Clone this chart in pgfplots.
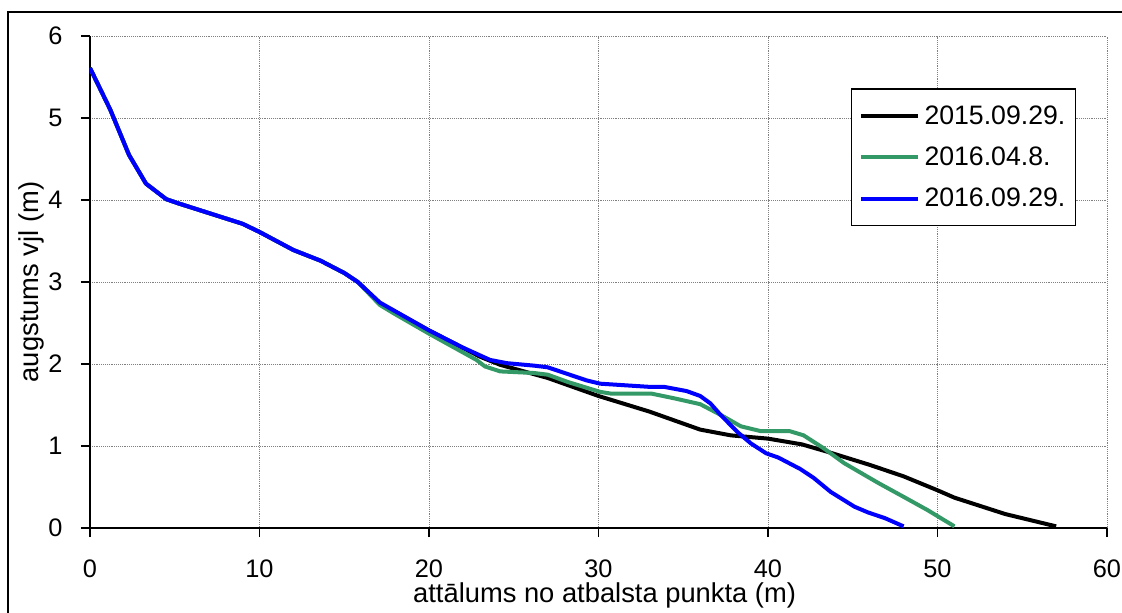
\documentclass[border=0pt]{standalone}
\usepackage{fontspec}
\setmainfont{Liberation Sans}
\usepackage{pgfplots}
\pgfplotsset{compat=1.18}
\definecolor{sgreen}{RGB}{51,153,102}
\begin{document}
\begin{tikzpicture}
\useasboundingbox (0,0) rectangle (841.5pt,459pt);
\clip (0,0) rectangle (841.5pt,459pt);
\draw[line width=1.2pt] (6pt,-20pt) rectangle (860pt,450pt);
\begin{axis}[
  at={(67.5pt,63pt)}, anchor=south west,
  scale only axis, width=762.75pt, height=369pt,
  xmin=0, xmax=60, ymin=0, ymax=6,
  xtick={0,10,...,60}, ytick={0,1,...,6},
  axis x line*=bottom, axis y line*=left,
  axis line style={line width=1.5pt, -},
  tick align=outside, major tick length=6.75pt,
  tick style={line width=1.2pt, black},
  grid=major,
  major grid style={gray, densely dotted, line width=0.7pt},
  /pgf/number format/assume math mode=true,
  tick label style={font=\fontsize{19}{22}\selectfont},
  xticklabel style={anchor=base, inner sep=0pt, yshift=-30pt},
  yticklabel style={anchor=east, inner sep=0pt, xshift=-13.75pt},
  xlabel={attālums no atbalsta punkta (m)},
  ylabel={augstums vjl (m)},
  label style={font=\fontsize{20.5}{24}\selectfont},
  xlabel style={at={(axis description cs:0.506,-0.1524)}, anchor=base, inner sep=0pt},
  ylabel style={at={(axis description cs:-0.058,0.5)}, anchor=center, inner sep=0pt},
  legend style={at={(0.748,0.894)}, anchor=north west, draw=black, line width=1.2pt,
    font=\fontsize{20}{23}\selectfont, inner xsep=5.5pt, inner ysep=10.5pt, row sep=11.5pt,
    legend cell align=left,
    /tikz/every odd column/.append style={column sep=1.5pt}},
  legend image code/.code={\draw[#1, line width=3pt] (0pt,0pt) -- (42.75pt,0pt);},
  every axis plot/.append style={line width=3pt, line join=round},
]
\addplot[black] coordinates {
(0,5.61) (1.2,5.10) (2.3,4.55) (3.3,4.20) (4.5,4.01) (5.2,3.96) (9.0,3.71) (10.0,3.61)
(12.0,3.39) (13.6,3.26) (15.0,3.11) (15.8,3.0) (17.1,2.74) (20,2.41) (23,2.09) (24.2,1.99)
(27,1.83) (30,1.61) (33,1.42) (36,1.20) (37.8,1.13) (40,1.09) (42,1.02) (43.5,0.93)
(46,0.77) (48,0.63) (50,0.46) (51,0.37) (54,0.17) (57,0.02)};
\addlegendentry{2015.09.29.}
\addplot[sgreen] coordinates {
(0,5.61) (1.2,5.10) (2.3,4.55) (3.3,4.20) (4.5,4.01) (5.2,3.96) (9.0,3.71) (10.0,3.61)
(12.0,3.39) (13.6,3.26) (15.0,3.11) (15.8,3.0) (17.1,2.72) (17.9,2.62) (20,2.37) (22.8,2.05)
(23.3,1.97) (24.2,1.91) (25.2,1.90) (26.2,1.89) (27,1.87) (28.2,1.78) (30.1,1.66) (30.7,1.64)
(33.1,1.64) (34.5,1.58) (36,1.51) (37.2,1.38) (38.4,1.24) (39.6,1.18) (41.3,1.18) (42.1,1.13)
(43.3,0.97) (44.5,0.79) (46.5,0.55) (48,0.38) (49.4,0.22) (51,0.02)};
\addlegendentry{2016.04.8.}
\addplot[blue] coordinates {
(0,5.61) (1.2,5.10) (2.3,4.55) (3.3,4.20) (4.5,4.01) (5.2,3.96) (9.0,3.71) (10.0,3.61)
(12.0,3.39) (13.6,3.26) (15.0,3.11) (15.8,3.0) (17.1,2.75) (20,2.41) (22,2.20) (23.6,2.05)
(24.6,2.01) (26.2,1.98) (27,1.96) (29.3,1.80) (30.1,1.76) (33.1,1.72) (33.9,1.72) (35.2,1.67)
(36,1.61) (36.6,1.52) (37.2,1.38) (38.2,1.17) (39,1.03) (39.9,0.91) (40.6,0.86) (41.9,0.72)
(42.7,0.61) (43.7,0.44) (45.1,0.26) (45.9,0.19) (46.9,0.12) (48,0.02)};
\addlegendentry{2016.09.29.}
\end{axis}
\end{tikzpicture}
\end{document}
